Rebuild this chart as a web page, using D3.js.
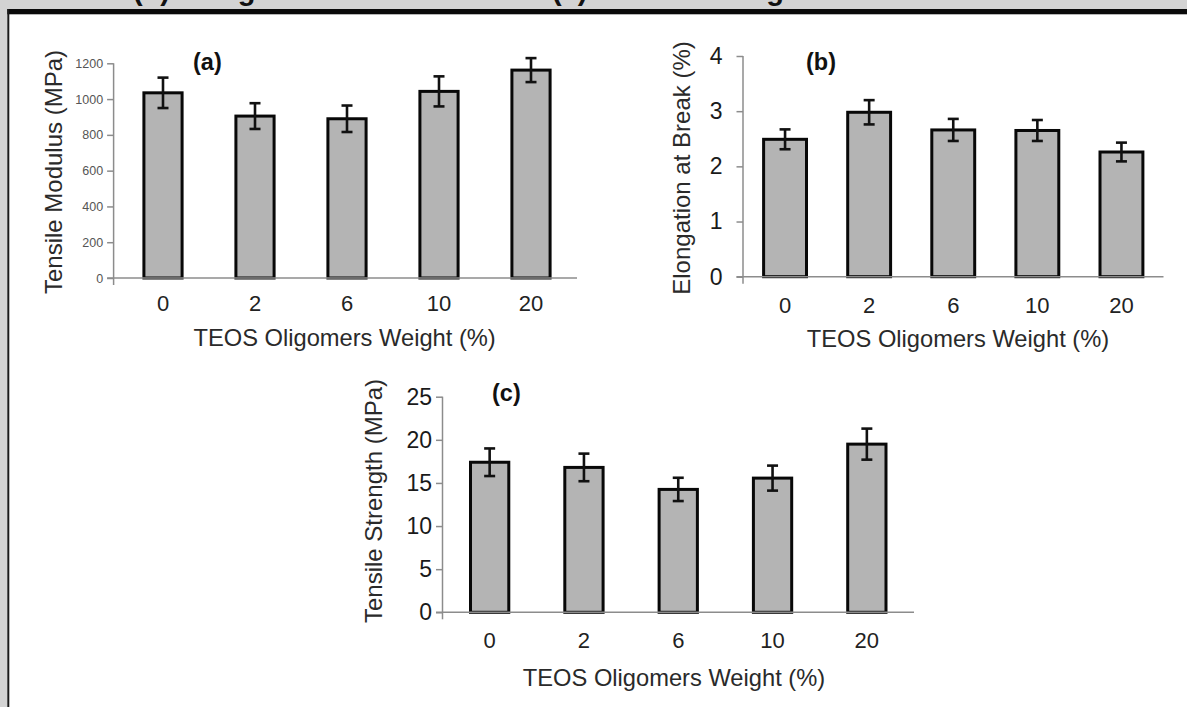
<!DOCTYPE html>
<html>
<head>
<meta charset="utf-8">
<script src="https://cdn.jsdelivr.net/npm/d3@7/dist/d3.min.js"></script>
<style>
  html, body { margin: 0; padding: 0; background: #fff; }
  svg { display: block; font-family: "Liberation Sans", Arial, sans-serif; }
</style>
</head>
<body>
<svg id="chart" width="1187" height="707"></svg>
<script>
// ---- data ----
const categories = ["0", "2", "6", "10", "20"];
const modulus = [1035, 905, 890, 1043, 1162];
const modulusErr = [85, 72, 74, 84, 67];
const elongation = [2.49, 2.98, 2.66, 2.65, 2.26];
const elongationErr = [0.18, 0.22, 0.20, 0.19, 0.17];
const strength = [17.4, 16.8, 14.25, 15.56, 19.5];
const strengthErr = [1.6, 1.6, 1.35, 1.45, 1.8];
const modulusTicks = [0, 200, 400, 600, 800, 1000, 1200];
const elongationTicks = [0, 1, 2, 3, 4];
const strengthTicks = [0, 5, 10, 15, 20, 25];
const xTitle = "TEOS Oligomers Weight (%)";
const captionPart1 = "(b) elongation at break and ";
const captionPart2 = "(c) tensile strength";

const svg = d3.select("#chart");

// ---- page frame ----
svg.append("rect").attr("x", 0).attr("y", 0).attr("width", 1187).attr("height", 707).attr("fill", "#fff");
svg.append("rect").attr("x", 0).attr("y", 0).attr("width", 1187).attr("height", 9).attr("fill", "#d3d3d3");
svg.append("rect").attr("x", 0).attr("y", 0).attr("width", 7.3).attr("height", 707).attr("fill", "#d3d3d3");
svg.append("defs").append("clipPath").attr("id", "capclip")
  .append("rect").attr("x", 0).attr("y", 0).attr("width", 1187).attr("height", 9);
const cap = svg.append("g").attr("clip-path", "url(#capclip)");
cap.append("text").attr("x", 133).attr("y", 0.2).attr("font-size", 29).attr("font-weight", "bold")
  .attr("fill", "#111").text(captionPart1);
cap.append("text").attr("x", 552).attr("y", 0.2).attr("font-size", 29).attr("font-weight", "bold")
  .attr("fill", "#111").text(captionPart2);
svg.append("rect").attr("x", 7.3).attr("y", 9).attr("width", 1180).attr("height", 5.3).attr("fill", "#0a0a0a");
svg.append("rect").attr("x", 7.3).attr("y", 9).attr("width", 2).attr("height", 698).attr("fill", "#1a1a1a");

// ---- panels ----
const panels = [
  { values: modulus, errs: modulusErr, ticks: modulusTicks, max: 1200,
    yTitle: "Tensile Modulus (MPa)", tag: "(a)",
    axisX: 113.6, range: [117, 577], pad: 0.585, y0: 278, yTop: 63.3,
    yLabelSize: 12.5, yLabelColor: "#555", yLabelGap: 4,
    xLabelY: 303, xLabelSize: 22, titleX: 344.6, titleY: 338,
    yTitleX: 53.6, yTitleY: 172, tagX: 193, tagY: 70 },
  { values: elongation, errs: elongationErr, ticks: elongationTicks, max: 4,
    yTitle: "Elongation at Break (%)", tag: "(b)",
    axisX: 743, range: [743, 1163.5], pad: 0.49, y0: 276.7, yTop: 56,
    yLabelSize: 23, yLabelColor: "#1a1a1a", yLabelGap: 14,
    xLabelY: 305, xLabelSize: 22, titleX: 958, titleY: 338.3,
    yTitleX: 681.5, yTitleY: 168, tagX: 806, tagY: 70 },
  { values: strength, errs: strengthErr, ticks: strengthTicks, max: 25,
    yTitle: "Tensile Strength (MPa)", tag: "(c)",
    axisX: 442.5, range: [442.5, 914], pad: 0.594, y0: 612.3, yTop: 396.7,
    yLabelSize: 23, yLabelColor: "#1a1a1a", yLabelGap: 4,
    xLabelY: 640, xLabelSize: 22, titleX: 674, titleY: 678,
    yTitleX: 374, yTitleY: 501, tagX: 492, tagY: 401 }
];

const axisColor = "#8c8c8c";

panels.forEach(p => {
  const g = svg.append("g");
  const x = d3.scaleBand().domain(categories).range(p.range).paddingInner(p.pad).paddingOuter(p.pad / 2);
  const y = d3.scaleLinear().domain([0, p.max]).range([p.y0, p.yTop]);

  // y axis ticks + labels
  const ya = g.append("g").attr("transform", `translate(${p.axisX},0)`)
    .call(d3.axisLeft(y).tickValues(p.ticks).tickSize(6.5).tickPadding(p.yLabelGap).tickFormat(d3.format("d")));
  ya.select(".domain").remove();
  ya.selectAll(".tick line").attr("stroke", axisColor).attr("stroke-width", 1.5);
  ya.selectAll(".tick text").attr("font-size", p.yLabelSize).attr("fill", p.yLabelColor)
    .attr("font-family", "Liberation Sans, Arial, sans-serif");

  // axis lines
  g.append("line").attr("x1", p.axisX).attr("x2", p.axisX)
    .attr("y1", y(p.max)).attr("y2", p.y0 + 7)
    .attr("stroke", axisColor).attr("stroke-width", 1.5);

  // bars
  g.selectAll("rect.bar").data(p.values).join("rect").attr("class", "bar")
    .attr("x", (d, i) => x(categories[i]))
    .attr("y", d => y(d))
    .attr("width", x.bandwidth())
    .attr("height", d => y(0) - y(d))
    .attr("fill", "#b4b4b4").attr("stroke", "#080808").attr("stroke-width", 3);

  g.append("line").attr("x1", p.axisX - 6.5).attr("x2", p.range[1])
    .attr("y1", p.y0).attr("y2", p.y0)
    .attr("stroke", axisColor).attr("stroke-width", 1.5);

  // error bars
  const eb = g.selectAll("g.err").data(p.values).join("g").attr("class", "err");
  const cx = i => x(categories[i]) + x.bandwidth() / 2;
  eb.append("line")
    .attr("x1", (d, i) => cx(i)).attr("x2", (d, i) => cx(i))
    .attr("y1", (d, i) => y(d + p.errs[i])).attr("y2", (d, i) => y(d - p.errs[i]))
    .attr("stroke", "#111").attr("stroke-width", 2.6);
  [1, -1].forEach(s => {
    eb.append("line")
      .attr("x1", (d, i) => cx(i) - 5.5).attr("x2", (d, i) => cx(i) + 5.5)
      .attr("y1", (d, i) => y(d + s * p.errs[i])).attr("y2", (d, i) => y(d + s * p.errs[i]))
      .attr("stroke", "#111").attr("stroke-width", 2.6);
  });

  // x axis labels
  const xa = g.append("g").attr("transform", `translate(0,${p.y0})`)
    .call(d3.axisBottom(x).tickSize(0));
  xa.select(".domain").remove();
  xa.selectAll(".tick text").attr("y", p.xLabelY - p.y0).attr("dy", "0.35em")
    .attr("font-size", p.xLabelSize).attr("fill", "#222")
    .attr("font-family", "Liberation Sans, Arial, sans-serif");

  // titles
  g.append("text").attr("x", p.titleX).attr("y", p.titleY).attr("dy", "0.35em")
    .attr("text-anchor", "middle").attr("font-size", 23.7).attr("fill", "#2a2a2a").text(xTitle);
  g.append("text").attr("transform", `translate(${p.yTitleX},${p.yTitleY}) rotate(-90)`)
    .attr("dy", "0.35em").attr("text-anchor", "middle").attr("font-size", 24)
    .attr("fill", "#2a2a2a").text(p.yTitle);
  g.append("text").attr("x", p.tagX).attr("y", p.tagY).attr("font-size", 23.5)
    .attr("font-weight", "bold").attr("fill", "#111").text(p.tag);
});
</script>
</body>
</html>
